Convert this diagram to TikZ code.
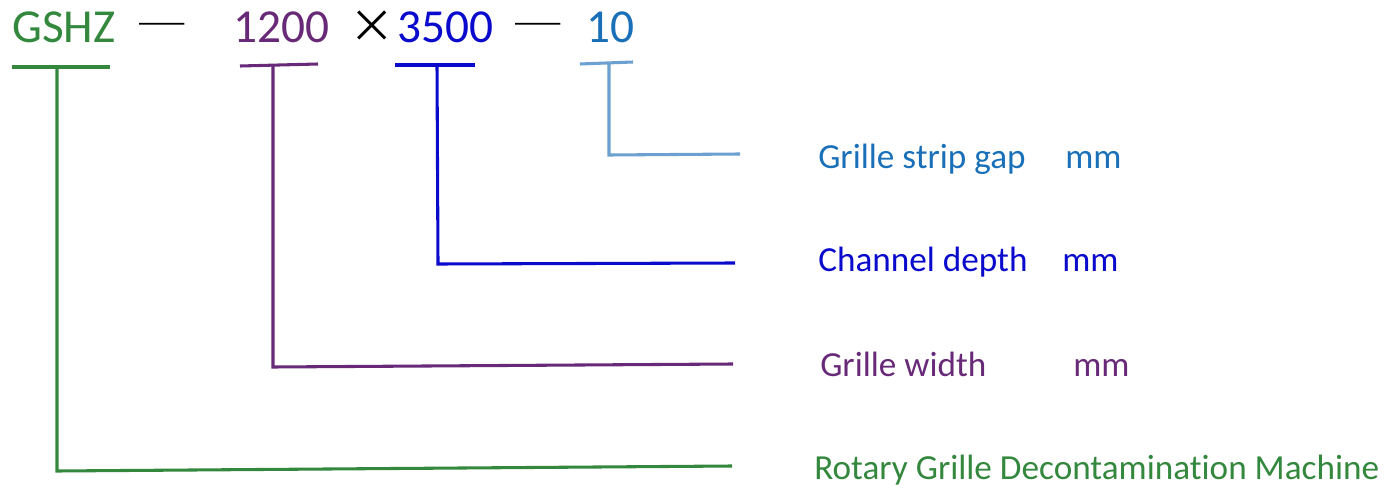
\documentclass[tikz,border=0pt]{standalone}
\usepackage{fontspec}
\setmainfont{Carlito}[Ligatures={NoCommon,NoRare}]
\newfontfamily\cjk{Noto Sans CJK SC}
\definecolor{cgreen}{RGB}{52,136,62}
\definecolor{cpurple}{RGB}{104,42,120}
\definecolor{cblue}{RGB}{10,10,205}
\definecolor{clblue}{RGB}{108,160,208}
\definecolor{ctblue}{RGB}{26,112,184}
\begin{document}
\begin{tikzpicture}[x=0.75pt,y=-0.75pt,
  toptext/.style={anchor=base west,inner sep=0pt,font=\fontsize{35.5}{40}\selectfont},
  sym/.style={anchor=base,inner sep=0pt,font=\cjk\fontsize{34}{38}\selectfont},
  lbl/.style={anchor=base west,inner sep=0pt,font=\fontsize{26.4}{30}\selectfont},
  lead/.style={line width=2.3pt}]
\useasboundingbox (0,0) rectangle (1399,488);
% top code
\node[toptext,text=cgreen] (gshz) at (12,43) {GSHZ};
\node[sym] (d1) at (162,42) {─};
\node[toptext,text=cpurple] (w) at (233,43) {1200};
\node[sym] (x) at (372,43) {×};
\node[toptext,text=cblue] (dp) at (397,43) {3500};
\node[sym] (d2) at (538,42) {─};
\node[toptext,text=ctblue] (gap) at (586,43) {10};
% labels
\node[lbl,text=ctblue] (lgap) at (818,169) {Grille strip gap};
\node[lbl,text=ctblue] (mgap) at (1065,169) {mm};
\node[lbl,text=cblue] (ldp) at (818,272) {Channel depth};
\node[lbl,text=cblue] (mdp) at (1062,272) {mm};
\node[lbl,text=cpurple] (lw) at (820,376) {Grille width};
\node[lbl,text=cpurple] (mw) at (1073,376) {mm};
\node[lbl,text=cgreen] (lm) at (814,479) {Rotary Grille Decontamination Machine};
% coordinates
\coordinate (ga) at (12,67); \coordinate (gb) at (110,67);
\coordinate (gt) at (57,67); \coordinate (gc) at (57,471); \coordinate (ge) at (732,466);
\coordinate (pa) at (240,66); \coordinate (pb) at (318,64);
\coordinate (pt) at (273,65); \coordinate (pc) at (273,367); \coordinate (pe) at (733,364);
\coordinate (ba) at (395,65); \coordinate (bb) at (475,65);
\coordinate (bt) at (437,65); \coordinate (bc) at (438,264); \coordinate (be) at (735,263);
\coordinate (la) at (580,64); \coordinate (lb) at (633,62);
\coordinate (lt) at (609,63); \coordinate (lc) at (609,155); \coordinate (le) at (740,154);
% leaders
\draw[lead,cgreen] (ga) -- (gb);
\draw[lead,cgreen] (gt) -- (gc) -- (ge);
\draw[lead,cpurple] (pa) -- (pb);
\draw[lead,cpurple] (pt) -- (pc) -- (pe);
\draw[lead,cblue] (ba) -- (bb);
\draw[lead,cblue] (bt) -- (bc) -- (be);
\draw[lead,clblue] (la) -- (lb);
\draw[lead,clblue] (lt) -- (lc) -- (le);
\end{tikzpicture}
\end{document}
